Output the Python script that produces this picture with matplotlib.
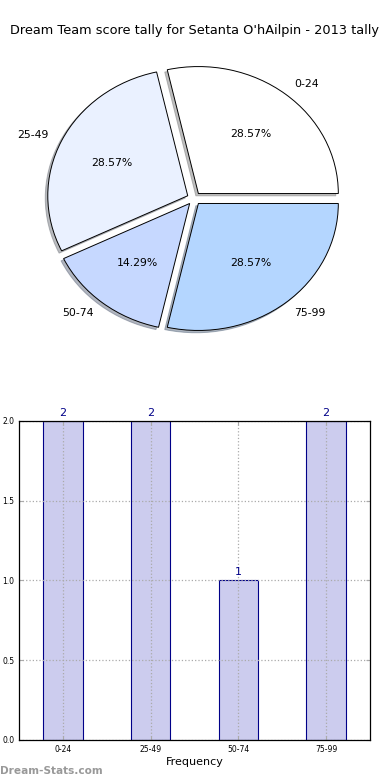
import numpy as np
import matplotlib
matplotlib.use('Agg')
import matplotlib.pyplot as plt

# Data
categories = ['0-24', '25-49', '50-74', '75-99']
counts = [2, 2, 1, 2]
pie_colors = ['#ffffff', '#eaf1ff', '#c6d8ff', '#b4d6ff']
title = "Dream Team score tally for Setanta O'hAilpin - 2013 tally"

fig = plt.figure(figsize=(3.9, 7.8), dpi=100, facecolor='white')
fig.text(0.5, 0.961, title, ha='center', va='center', fontsize=9.3)

# Pie panel
ax1 = fig.add_axes([0.049, 0.542, 0.897, 0.407])
ax1.pie(counts, labels=categories, colors=pie_colors, explode=[0.05] * 4,
        autopct='%.2f%%', shadow={'ox': -0.013, 'oy': -0.013, 'shade': 0.5}, startangle=0,
        wedgeprops={'edgecolor': 'black', 'linewidth': 0.7},
        textprops={'fontsize': 7.8})
ax1.set_aspect('auto')

# Bar panel
ax2 = fig.add_axes([0.0487, 0.0513, 0.9, 0.409])
x = np.arange(len(categories))
bars = ax2.bar(x, counts, width=0.45, color='#ccccee', edgecolor='#000088', linewidth=0.8, zorder=2)
for b, v in zip(bars, counts):
    ax2.text(b.get_x() + b.get_width() / 2, v + 0.02, str(v), ha='center', va='bottom',
             fontsize=8, color='#000088')
ax2.set_xlim(-0.5, 3.5)
ax2.set_ylim(0, 2.0)
ax2.set_xticks(x)
ax2.set_xticklabels(categories)
ax2.set_yticks([0.0, 0.5, 1.0, 1.5, 2.0])
ax2.tick_params(labelsize=5.5, direction='in', top=True, right=True, length=3, color='#aaaaaa')
ax2.grid(True, linestyle=':', color='#aaaaaa', linewidth=0.9)
ax2.set_axisbelow(False)
ax2.set_xlabel('Frequency', fontsize=8, labelpad=2)
for s in ax2.spines.values():
    s.set_linewidth(0.9)
    s.set_zorder(4)

fig.text(0.0, 0.012, 'Dream-Stats.com', fontsize=7.6, color='#999999', fontweight='bold', ha='left', va='center')

plt.savefig('out.png', dpi=100)
plt.close()
